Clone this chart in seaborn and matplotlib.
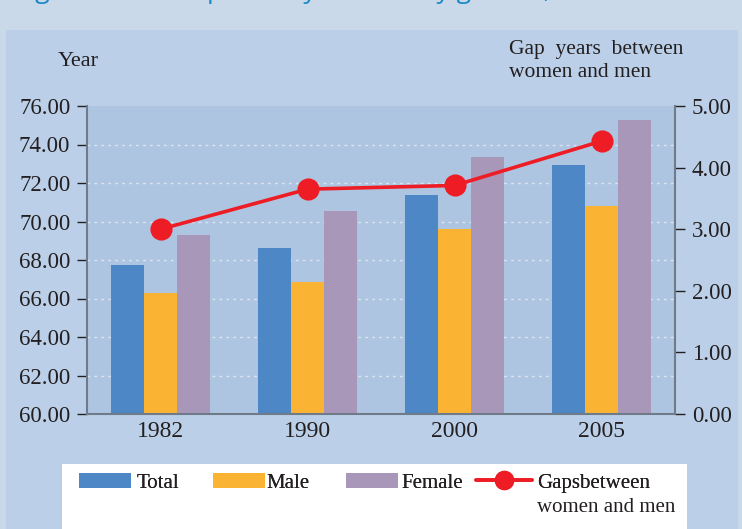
import matplotlib
matplotlib.use("Agg")
import matplotlib.pyplot as plt
import matplotlib.patches as mpatches
from matplotlib.lines import Line2D
import seaborn as sns
import pandas as pd

years = ["1982", "1990", "2000", "2005"]
total = [67.75, 68.62, 71.39, 72.94]
male = [66.30, 66.87, 69.62, 70.82]
female = [69.31, 70.56, 73.36, 75.28]
gap = [3.00, 3.65, 3.71, 4.43]
series = ["Total", "Male", "Female"]
y_ticks = [60, 62, 64, 66, 68, 70, 72, 74, 76]
gap_ticks = [0, 1, 2, 3, 4, 5]

colors = {"Total": "#4d87c6", "Male": "#fbb334", "Female": "#a897b9"}
red = "#ee1c25"
ink = "#231f20"

sns.set_theme(style="white")
plt.rcParams["font.family"] = ["Liberation Serif", "DejaVu Serif"]

df = pd.DataFrame({
    "year": years * 3,
    "value": total + male + female,
    "series": [s for s in series for _ in years],
})

W, H = 742, 529
fig = plt.figure(figsize=(W / 100, H / 100), dpi=100)
fig.patch.set_facecolor("#c9d9ea")

def fx(px):
    return px / W

def fy(py):
    return 1 - py / H

# panel background
fig.add_artist(mpatches.Rectangle((fx(6), 0), fx(738 - 6), (H - 30) / H,
                                  transform=fig.transFigure, facecolor="#bbd0e8",
                                  edgecolor="none", zorder=-10))
# legend white box
fig.add_artist(mpatches.Rectangle((fx(62), 0), fx(687 - 62), (H - 464) / H,
                                  transform=fig.transFigure, facecolor="white",
                                  edgecolor="none", zorder=-5))

# cut-off title at the very top (as in the reference)
fig.text(fx(15), 1.0 + 2 / H, "Figure 2: Life expectancy at birth by gender, 1982-2005",
         color="#1c8ac8", fontsize=19, family=["Open Sans", "DejaVu Sans"],
         va="baseline", ha="left")

ax = fig.add_axes([fx(87), fy(414), fx(675 - 87), (414 - 106) / H])
ax.set_facecolor("#aec5e1")

sns.barplot(data=df, x="year", y="value", hue="series", order=years,
            hue_order=series, palette=colors, width=0.667, gap=0,
            saturation=1, ax=ax, legend=False, zorder=2)
for p in ax.patches:
    p.set_edgecolor("none")

ax.set_ylim(60, 76)
ax.set_xlim(-0.5, 3.5)
ax.set_yticks(y_ticks)
ax.set_yticklabels([f"{v:.2f}" for v in y_ticks], fontsize=16.5, color=ink)
ax.set_xticks(range(len(years)))
ax.set_xticklabels(years, fontsize=17, color=ink)
ax.set_xticks([-0.5, 0.5, 1.5, 2.5, 3.5], minor=True)
ax.tick_params(axis="x", which="major", length=0, pad=5)
ax.tick_params(axis="x", which="minor", length=7, width=1, color=ink, direction="out")
ax.tick_params(axis="y", length=7, width=1, color=ink, direction="out", pad=5)
ax.set_xlabel("")
ax.set_ylabel("")
for y in y_ticks[1:-1]:
    ax.axhline(y, color="white", alpha=0.55, lw=1, ls=(0, (2, 3)), zorder=1)
for s in ["top", "right"]:
    ax.spines[s].set_visible(False)
for s in ["left", "bottom"]:
    ax.spines[s].set_color("#6f7b88")
    ax.spines[s].set_linewidth(1.5)

ax2 = ax.twinx()
sns.pointplot(x=years, y=gap, ax=ax2, color=red, markers="o", markersize=14,
              linewidth=2.6, zorder=5)
ax2.set_xlim(-0.5, 3.5)
ax2.set_ylim(0, 5)
ax2.set_yticks(gap_ticks)
ax2.set_yticklabels([f"{v:.2f}" for v in gap_ticks], fontsize=16.5, color=ink)
ax2.tick_params(axis="y", length=7, width=1, color=ink, direction="out", pad=5)
ax2.set_ylabel("")
for s in ["top", "left", "bottom"]:
    ax2.spines[s].set_visible(False)
ax2.spines["right"].set_color("#6f7b88")
ax2.spines["right"].set_linewidth(1.5)

fig.text(fx(58), fy(62), "Year", fontsize=16, color=ink, ha="left", va="center")
fig.text(fx(509), fy(40), "Gap  years  between\nwomen and men", fontsize=15.5,
         color=ink, ha="left", va="top", linespacing=1.3)

# legend: one entry per anchored legend to follow the reference spacing
handles = [mpatches.Patch(facecolor=colors[s], edgecolor="none") for s in series]
handles.append(Line2D([0], [0], color=red, lw=2.6, marker="o", markersize=13))
labels = ["Total", "Male", "Female", "Gapsbetween"]
starts = [79, 213, 346, 476]
pads = [0.25, 0.05, 0.15, 0.25]
hlens = [2.5, 2.5, 2.5, 2.7]
for h, lab, x0, pd_, hl in zip(handles, labels, starts, pads, hlens):
    lg = fig.legend([h], [lab], loc="center left", bbox_to_anchor=(fx(x0), fy(483)),
                    frameon=False, fontsize=15, handlelength=hl, handleheight=0.7,
                    handletextpad=pd_, borderpad=0, borderaxespad=0)
    for t in lg.get_texts():
        t.set_color(ink)
    fig.add_artist(lg)
fig.text(fx(537), fy(508), "women and men", fontsize=15, color=ink,
         ha="left", va="center")

fig.savefig("out.png", dpi=100, facecolor=fig.get_facecolor())
